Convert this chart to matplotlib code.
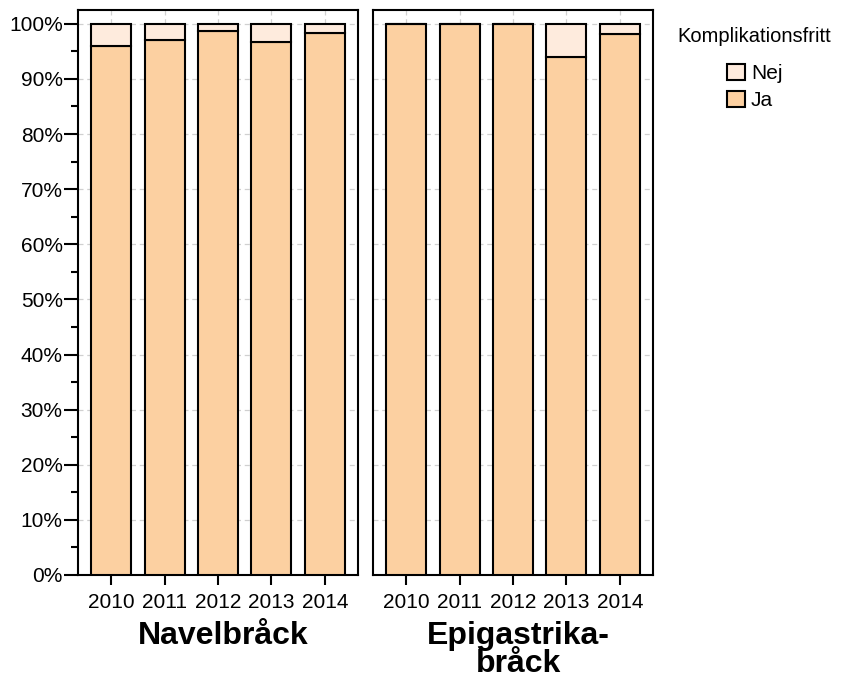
import matplotlib
matplotlib.use("Agg")
import matplotlib.pyplot as plt
import numpy as np
from matplotlib.ticker import MultipleLocator, FuncFormatter
from matplotlib.patches import Patch

plt.rcParams['font.family'] = ['Liberation Sans', 'DejaVu Sans']

years = ["2010", "2011", "2012", "2013", "2014"]
panels = ["Navelbråck", "Epigastrika-\nbråck"]
ja_navel = [95.9, 97.0, 98.6, 96.7, 98.4]
ja_epi = [100.0, 100.0, 100.0, 93.9, 98.2]
ja_values = [ja_navel, ja_epi]
series_labels = ["Nej", "Ja"]
legend_title = "Komplikationsfritt"

col_ja = "#FCD0A1"
col_nej = "#FEEBDD"

fig = plt.figure(figsize=(8.45, 6.8), dpi=100)
W, H = 845, 680
lefts = [78, 373]
pw = 280
top, bottom = 10, 575

for i, (name, ja) in enumerate(zip(panels, ja_values)):
    ax = fig.add_axes([lefts[i] / W, 1 - bottom / H, pw / W, (bottom - top) / H])
    x = np.arange(len(years))
    ja = np.array(ja)
    nej = 100 - ja
    ax.bar(x, ja, width=0.75, color=col_ja, edgecolor="black", linewidth=1.5, zorder=3)
    ax.bar(x, nej, bottom=ja, width=0.75, color=col_nej, edgecolor="black", linewidth=1.5, zorder=3)
    ax.set_xlim(-0.62, 4.62)
    ax.set_ylim(0, 102.5)
    ax.set_xticks(x)
    ax.set_xticklabels(years, fontsize=15)
    ax.yaxis.set_major_locator(MultipleLocator(10))
    ax.yaxis.set_minor_locator(MultipleLocator(5))
    ax.yaxis.set_major_formatter(FuncFormatter(lambda v, p: f"{int(round(v))}%"))
    ax.grid(True, which="major", color="#d0d0d0", linestyle=(0, (4, 3)), linewidth=0.9, zorder=0)
    for s in ax.spines.values():
        s.set_linewidth(1.5)
        s.set_color("black")
    ax.tick_params(axis="x", length=7, width=1.5, pad=6, colors="black")
    if i == 0:
        ax.tick_params(axis="y", which="major", length=10, width=1.5, labelsize=15, pad=1)
        ax.tick_params(axis="y", which="minor", length=5, width=1.5)
    else:
        ax.tick_params(axis="y", which="both", left=False, labelleft=False)
    ax.set_xlabel(name, fontsize=23, fontweight="bold", linespacing=0.88)
    ax.xaxis.set_label_coords(0.5 + 5 / pw, -0.082, transform=ax.transAxes)
    ax.xaxis.label.set_verticalalignment("top")

handles = [Patch(facecolor=col_nej, edgecolor="black", linewidth=1.5),
           Patch(facecolor=col_ja, edgecolor="black", linewidth=1.5)]
leg = fig.legend(handles, series_labels, title=legend_title, loc="upper left",
                 bbox_to_anchor=(659 / W, 1 - 8 / H), frameon=False, fontsize=15,
                 title_fontsize=14.5, handlelength=0.85, handleheight=0.85,
                 handletextpad=0.3, labelspacing=0.35)
leg._legend_box.align = "center"
leg._legend_box.sep = 13

fig.savefig("out.png", dpi=100)
